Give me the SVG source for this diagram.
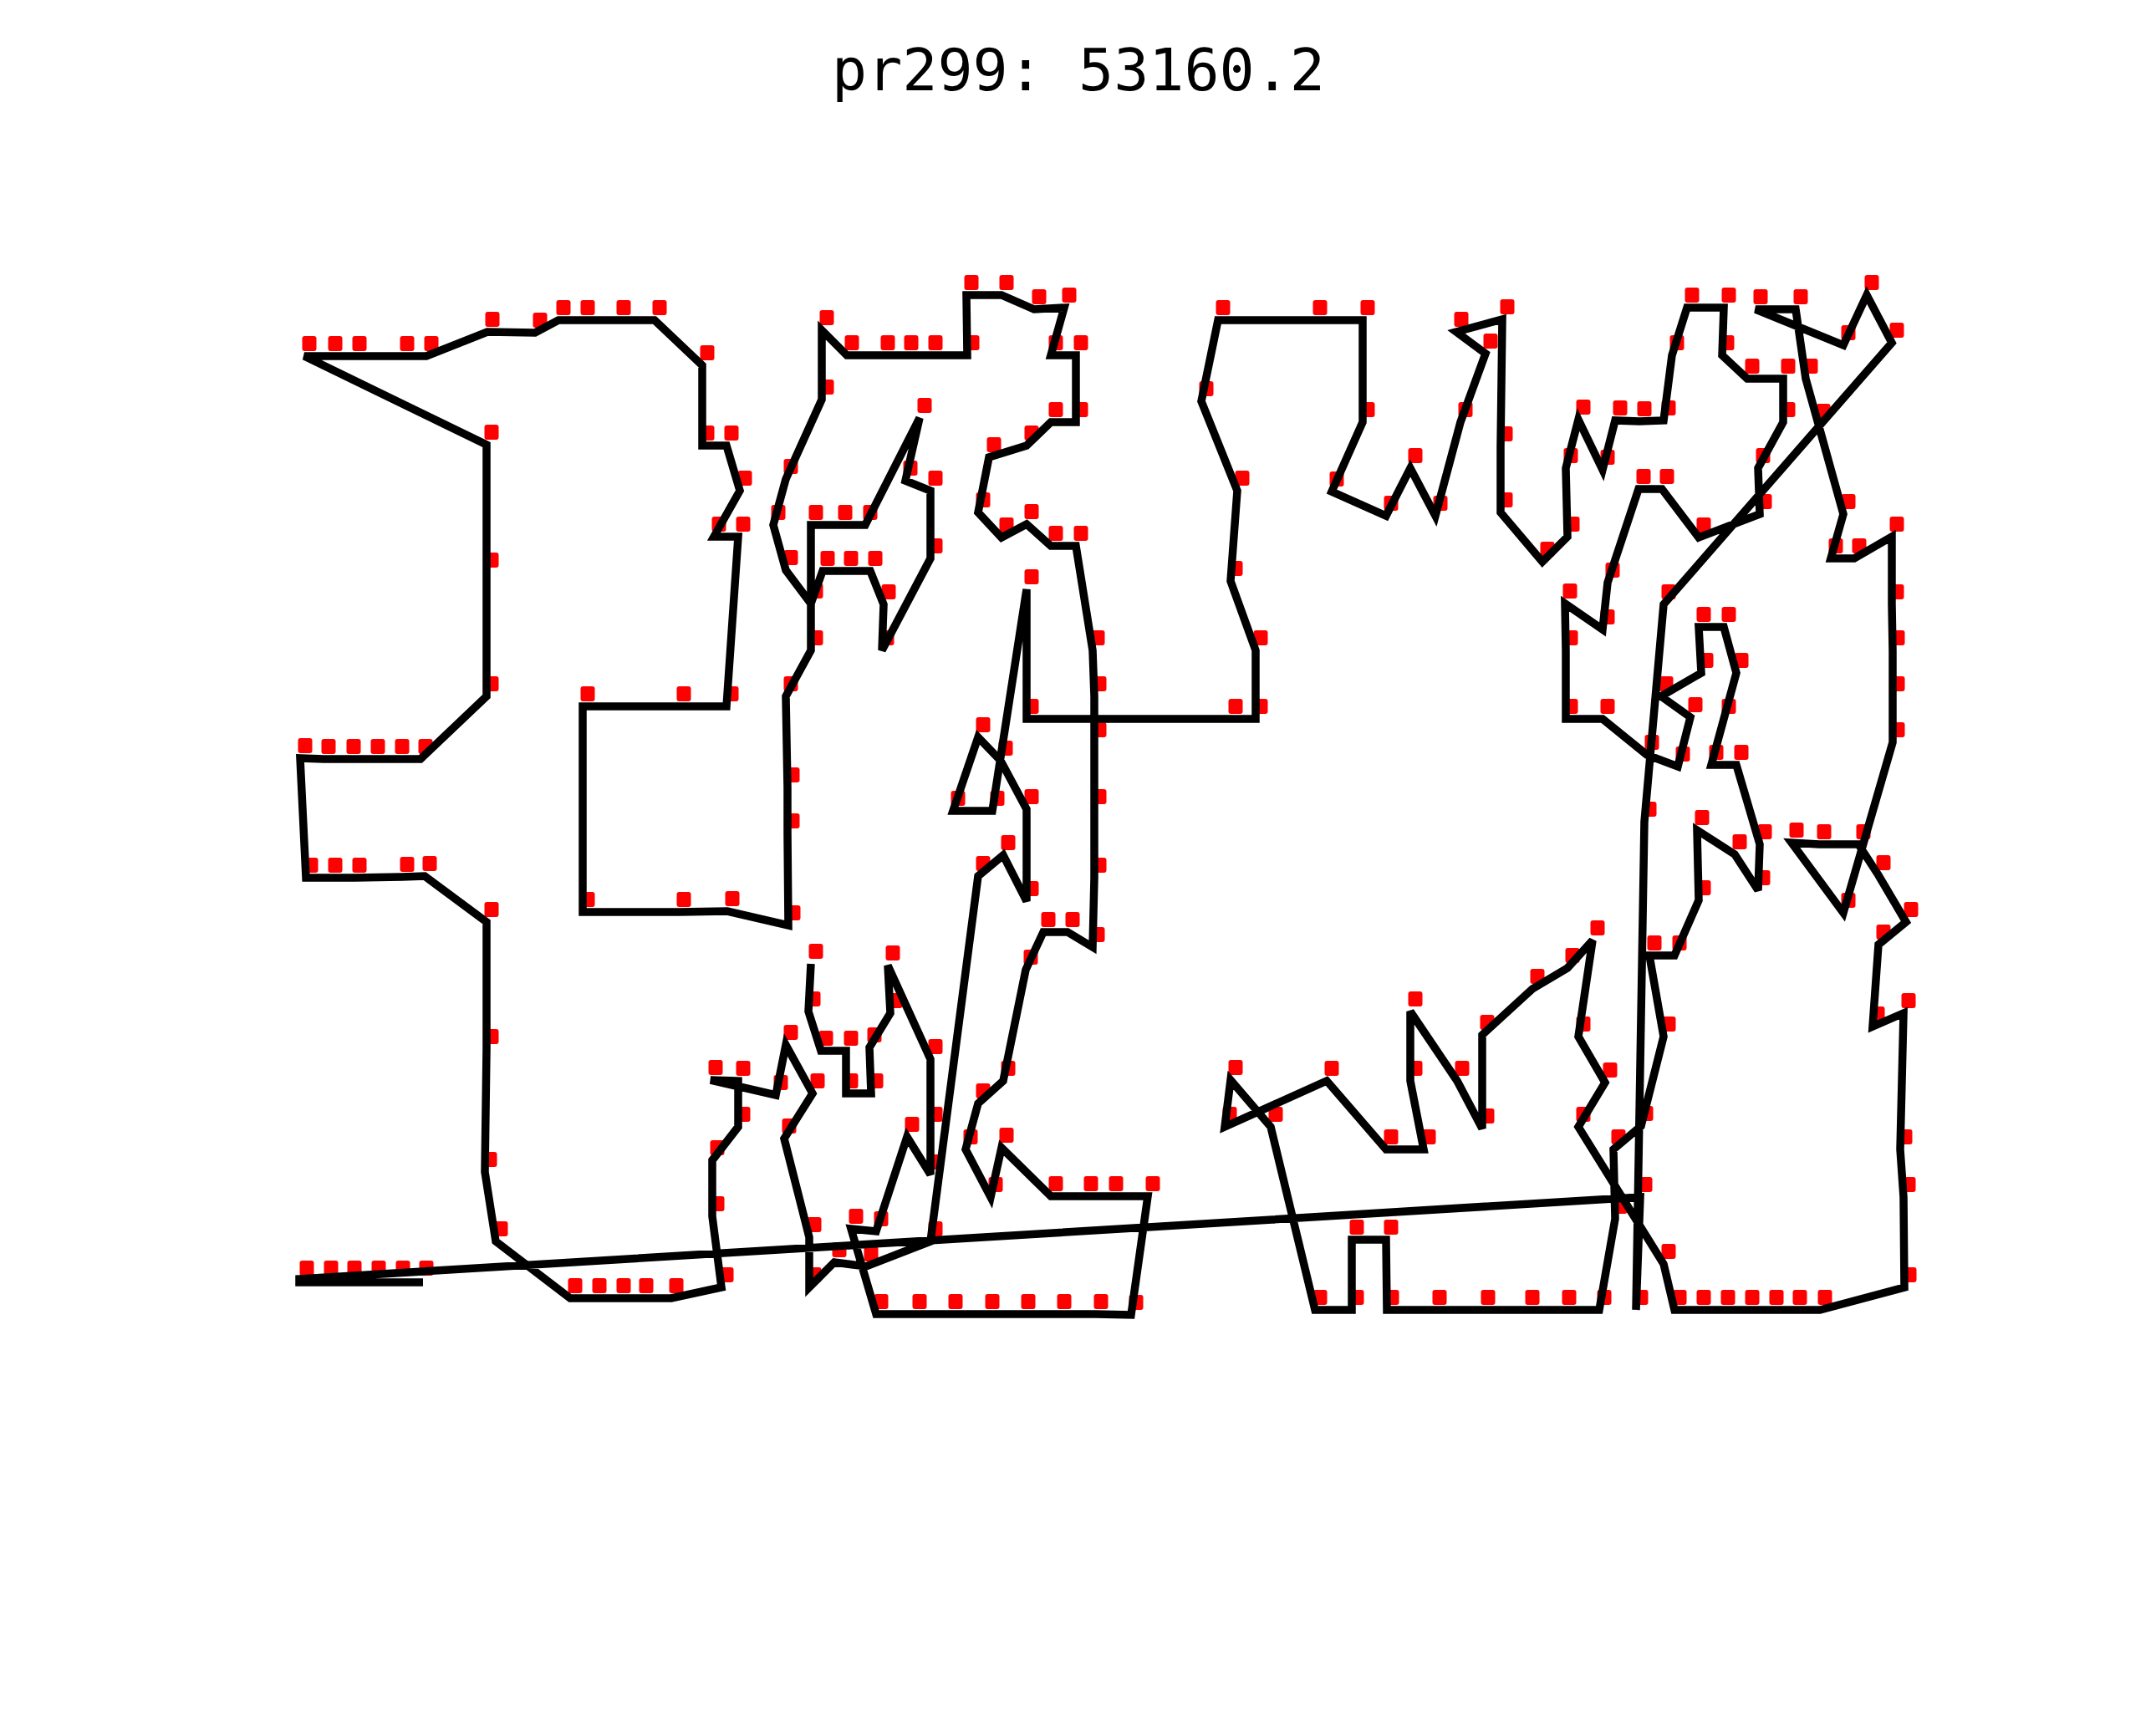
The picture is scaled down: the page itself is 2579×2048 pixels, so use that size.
<svg xmlns="http://www.w3.org/2000/svg" xmlns:xlink="http://www.w3.org/1999/xlink" width="2579" height="2048" viewBox="0 0 2579 2048">
<style>
.tour{fill:none;stroke:#000;stroke-width:9.5;stroke-linejoin:miter;stroke-miterlimit:3;stroke-linecap:butt}
.title{font-family:"DejaVu Sans Mono","Noto Sans CJK SC",monospace;font-size:70px;fill:#000;text-anchor:middle}
</style>
<defs><rect id="m" x="-2.5" y="-24" width="17" height="18" rx="3" fill="#ff0000"/></defs>
<rect width="2579" height="2048" fill="#fff"/>
<text class="title" x="1290" y="108">pr299: 53160.2</text>
<g id="cities">
<use href="#m" x="970" y="1153"/><use href="#m" x="967" y="1210"/><use href="#m" x="982" y="1257"/><use href="#m" x="1012" y="1257"/><use href="#m" x="1012" y="1308"/><use href="#m" x="1042" y="1308"/><use href="#m" x="1040" y="1253"/><use href="#m" x="1065" y="1212"/><use href="#m" x="1062" y="1155"/><use href="#m" x="1113" y="1267"/><use href="#m" x="1113" y="1348"/><use href="#m" x="1113" y="1405"/><use href="#m" x="1085" y="1360"/><use href="#m" x="1048" y="1473"/><use href="#m" x="1018" y="1470"/><use href="#m" x="1048" y="1572"/><use href="#m" x="1094" y="1572"/><use href="#m" x="1137" y="1572"/><use href="#m" x="1181" y="1572"/><use href="#m" x="1224" y="1572"/><use href="#m" x="1267" y="1572"/><use href="#m" x="1311" y="1572"/><use href="#m" x="1353" y="1573"/><use href="#m" x="1373" y="1431"/><use href="#m" x="1329" y="1431"/><use href="#m" x="1299" y="1431"/><use href="#m" x="1257" y="1431"/><use href="#m" x="1198" y="1373"/><use href="#m" x="1185" y="1432"/><use href="#m" x="1155" y="1375"/><use href="#m" x="1170" y="1320"/><use href="#m" x="1200" y="1293"/><use href="#m" x="1227" y="1160"/><use href="#m" x="1248" y="1115"/><use href="#m" x="1277" y="1115"/><use href="#m" x="1307" y="1133"/><use href="#m" x="1309" y="1050"/><use href="#m" x="1309" y="968"/><use href="#m" x="1309" y="888"/><use href="#m" x="1309" y="833"/><use href="#m" x="1307" y="778"/><use href="#m" x="1287" y="653"/><use href="#m" x="1257" y="653"/><use href="#m" x="1228" y="627"/><use href="#m" x="1198" y="643"/><use href="#m" x="1170" y="613"/><use href="#m" x="1183" y="547"/><use href="#m" x="1228" y="533"/><use href="#m" x="1257" y="505"/><use href="#m" x="1287" y="505"/><use href="#m" x="1287" y="425"/><use href="#m" x="1257" y="425"/><use href="#m" x="1273" y="368"/><use href="#m" x="1237" y="370"/><use href="#m" x="1198" y="353"/><use href="#m" x="1156" y="353"/><use href="#m" x="1157" y="425"/><use href="#m" x="1113" y="425"/><use href="#m" x="1084" y="425"/><use href="#m" x="1056" y="425"/><use href="#m" x="1013" y="425"/><use href="#m" x="983" y="395"/><use href="#m" x="983" y="478"/><use href="#m" x="940" y="573"/><use href="#m" x="925" y="628"/><use href="#m" x="940" y="682"/><use href="#m" x="970" y="722"/><use href="#m" x="984" y="683"/><use href="#m" x="1012" y="683"/><use href="#m" x="1041" y="683"/><use href="#m" x="1057" y="723"/><use href="#m" x="1055" y="778"/><use href="#m" x="1113" y="668"/><use href="#m" x="1113" y="587"/><use href="#m" x="1083" y="575"/><use href="#m" x="1100" y="500"/><use href="#m" x="1035" y="628"/><use href="#m" x="1005" y="628"/><use href="#m" x="970" y="628"/><use href="#m" x="970" y="778"/><use href="#m" x="940" y="833"/><use href="#m" x="942" y="942"/><use href="#m" x="942" y="997"/><use href="#m" x="943" y="1107"/><use href="#m" x="870" y="1090"/><use href="#m" x="812" y="1091"/><use href="#m" x="697" y="1091"/><use href="#m" x="697" y="845"/><use href="#m" x="812" y="845"/><use href="#m" x="869" y="845"/><use href="#m" x="883" y="642"/><use href="#m" x="854" y="642"/><use href="#m" x="885" y="587"/><use href="#m" x="869" y="533"/><use href="#m" x="840" y="533"/><use href="#m" x="840" y="437"/><use href="#m" x="783" y="383"/><use href="#m" x="740" y="383"/><use href="#m" x="697" y="383"/><use href="#m" x="668" y="383"/><use href="#m" x="640" y="398"/><use href="#m" x="583" y="397"/><use href="#m" x="510" y="426"/><use href="#m" x="481" y="426"/><use href="#m" x="424" y="426"/><use href="#m" x="395" y="426"/><use href="#m" x="364" y="426"/><use href="#m" x="582" y="532"/><use href="#m" x="582" y="685"/><use href="#m" x="582" y="833"/><use href="#m" x="503" y="908"/><use href="#m" x="475" y="908"/><use href="#m" x="446" y="908"/><use href="#m" x="417" y="908"/><use href="#m" x="387" y="908"/><use href="#m" x="359" y="907"/><use href="#m" x="366" y="1050"/><use href="#m" x="395" y="1050"/><use href="#m" x="424" y="1050"/><use href="#m" x="481" y="1049"/><use href="#m" x="508" y="1048"/><use href="#m" x="582" y="1103"/><use href="#m" x="582" y="1255"/><use href="#m" x="580" y="1402"/><use href="#m" x="593" y="1485"/><use href="#m" x="682" y="1553"/><use href="#m" x="711" y="1553"/><use href="#m" x="740" y="1553"/><use href="#m" x="767" y="1553"/><use href="#m" x="803" y="1553"/><use href="#m" x="863" y="1540"/><use href="#m" x="852" y="1455"/><use href="#m" x="852" y="1388"/><use href="#m" x="883" y="1348"/><use href="#m" x="883" y="1293"/><use href="#m" x="850" y="1292"/><use href="#m" x="928" y="1310"/><use href="#m" x="940" y="1250"/><use href="#m" x="972" y="1308"/><use href="#m" x="938" y="1362"/><use href="#m" x="968" y="1480"/><use href="#m" x="968" y="1540"/><use href="#m" x="998" y="1510"/><use href="#m" x="1036" y="1515"/><use href="#m" x="1113" y="1485"/><use href="#m" x="1170" y="1048"/><use href="#m" x="1200" y="1023"/><use href="#m" x="1228" y="1078"/><use href="#m" x="1228" y="968"/><use href="#m" x="1197" y="910"/><use href="#m" x="1170" y="882"/><use href="#m" x="1140" y="970"/><use href="#m" x="1187" y="970"/><use href="#m" x="1228" y="705"/><use href="#m" x="1228" y="860"/><use href="#m" x="1472" y="860"/><use href="#m" x="1502" y="860"/><use href="#m" x="1502" y="778"/><use href="#m" x="1472" y="695"/><use href="#m" x="1480" y="587"/><use href="#m" x="1437" y="480"/><use href="#m" x="1457" y="383"/><use href="#m" x="1573" y="383"/><use href="#m" x="1630" y="383"/><use href="#m" x="1630" y="505"/><use href="#m" x="1593" y="588"/><use href="#m" x="1658" y="617"/><use href="#m" x="1687" y="560"/><use href="#m" x="1717" y="617"/><use href="#m" x="1747" y="505"/><use href="#m" x="1777" y="423"/><use href="#m" x="1742" y="397"/><use href="#m" x="1797" y="382"/><use href="#m" x="1795" y="534"/><use href="#m" x="1795" y="613"/><use href="#m" x="1845" y="672"/><use href="#m" x="1875" y="642"/><use href="#m" x="1873" y="560"/><use href="#m" x="1888" y="502"/><use href="#m" x="1917" y="562"/><use href="#m" x="1932" y="503"/><use href="#m" x="1961" y="504"/><use href="#m" x="1990" y="503"/><use href="#m" x="2000" y="425"/><use href="#m" x="2018" y="368"/><use href="#m" x="2062" y="368"/><use href="#m" x="2060" y="425"/><use href="#m" x="2090" y="453"/><use href="#m" x="2133" y="453"/><use href="#m" x="2133" y="505"/><use href="#m" x="2103" y="560"/><use href="#m" x="2105" y="615"/><use href="#m" x="2032" y="643"/><use href="#m" x="1988" y="585"/><use href="#m" x="1960" y="585"/><use href="#m" x="1923" y="697"/><use href="#m" x="1917" y="753"/><use href="#m" x="1872" y="722"/><use href="#m" x="1873" y="778"/><use href="#m" x="1873" y="860"/><use href="#m" x="1917" y="860"/><use href="#m" x="1970" y="903"/><use href="#m" x="2007" y="917"/><use href="#m" x="2022" y="858"/><use href="#m" x="1987" y="833"/><use href="#m" x="2035" y="805"/><use href="#m" x="2032" y="750"/><use href="#m" x="2062" y="750"/><use href="#m" x="2077" y="805"/><use href="#m" x="2062" y="860"/><use href="#m" x="2047" y="915"/><use href="#m" x="2077" y="915"/><use href="#m" x="2105" y="1010"/><use href="#m" x="2103" y="1065"/><use href="#m" x="2075" y="1022"/><use href="#m" x="2030" y="993"/><use href="#m" x="2032" y="1077"/><use href="#m" x="2003" y="1143"/><use href="#m" x="1973" y="1143"/><use href="#m" x="1990" y="1240"/><use href="#m" x="1963" y="1347"/><use href="#m" x="1930" y="1375"/><use href="#m" x="1932" y="1458"/><use href="#m" x="1913" y="1567"/><use href="#m" x="1871" y="1567"/><use href="#m" x="1827" y="1567"/><use href="#m" x="1774" y="1567"/><use href="#m" x="1716" y="1567"/><use href="#m" x="1659" y="1567"/><use href="#m" x="1658" y="1483"/><use href="#m" x="1617" y="1483"/><use href="#m" x="1617" y="1567"/><use href="#m" x="1573" y="1567"/><use href="#m" x="1520" y="1348"/><use href="#m" x="1472" y="1292"/><use href="#m" x="1465" y="1348"/><use href="#m" x="1587" y="1293"/><use href="#m" x="1658" y="1375"/><use href="#m" x="1703" y="1375"/><use href="#m" x="1687" y="1293"/><use href="#m" x="1687" y="1210"/><use href="#m" x="1743" y="1293"/><use href="#m" x="1773" y="1350"/><use href="#m" x="1773" y="1238"/><use href="#m" x="1833" y="1183"/><use href="#m" x="1875" y="1158"/><use href="#m" x="1905" y="1125"/><use href="#m" x="1888" y="1240"/><use href="#m" x="1920" y="1295"/><use href="#m" x="1888" y="1348"/><use href="#m" x="1990" y="1512"/><use href="#m" x="2003" y="1567"/><use href="#m" x="2032" y="1567"/><use href="#m" x="2061" y="1567"/><use href="#m" x="2090" y="1567"/><use href="#m" x="2119" y="1567"/><use href="#m" x="2147" y="1567"/><use href="#m" x="2177" y="1567"/><use href="#m" x="2278" y="1540"/><use href="#m" x="2277" y="1432"/><use href="#m" x="2273" y="1375"/><use href="#m" x="2277" y="1212"/><use href="#m" x="2240" y="1228"/><use href="#m" x="2247" y="1130"/><use href="#m" x="2280" y="1103"/><use href="#m" x="2247" y="1047"/><use href="#m" x="2223" y="1010"/><use href="#m" x="2176" y="1010"/><use href="#m" x="2143" y="1008"/><use href="#m" x="2205" y="1092"/><use href="#m" x="2264" y="888"/><use href="#m" x="2264" y="833"/><use href="#m" x="2264" y="778"/><use href="#m" x="2263" y="723"/><use href="#m" x="2263" y="642"/><use href="#m" x="2218" y="668"/><use href="#m" x="2190" y="668"/><use href="#m" x="2205" y="615"/><use href="#m" x="2175" y="507"/><use href="#m" x="2160" y="453"/><use href="#m" x="2148" y="370"/><use href="#m" x="2100" y="370"/><use href="#m" x="2205" y="413"/><use href="#m" x="2233" y="353"/><use href="#m" x="2263" y="410"/><use href="#m" x="1990" y="723"/><use href="#m" x="1967" y="983"/><use href="#m" x="1957" y="1567"/><use href="#m" x="1962" y="1432"/><use href="#m" x="361" y="1532"/><use href="#m" x="390" y="1532"/><use href="#m" x="418" y="1532"/><use href="#m" x="447" y="1532"/><use href="#m" x="476" y="1532"/><use href="#m" x="504" y="1532"/>
</g>
<g id="connectors">
<polyline class="tour" points="970,1153 967,1210 982,1257 1012,1257 1012,1308 1042,1308 1040,1253 1065,1212 1062,1155 1113,1267 1113,1348 1113,1405 1085,1360 1048,1473 1018,1470 1048,1572 1094,1572 1137,1572 1181,1572 1224,1572 1267,1572 1311,1572 1353,1573 1373,1431 1329,1431 1299,1431 1257,1431 1198,1373 1185,1432 1155,1375 1170,1320 1200,1293 1227,1160 1248,1115 1277,1115 1307,1133 1309,1050 1309,968 1309,888 1309,833 1307,778 1287,653 1257,653 1228,627 1198,643 1170,613 1183,547 1228,533 1257,505 1287,505 1287,425 1257,425 1273,368 1237,370 1198,353 1156,353 1157,425 1113,425 1084,425 1056,425 1013,425 983,395 983,478 940,573 925,628 940,682 970,722 984,683 1012,683 1041,683 1057,723 1055,778 1113,668 1113,587 1083,575 1100,500 1035,628 1005,628 970,628 970,778 940,833 942,942 942,997 943,1107 870,1090 812,1091 697,1091 697,845 812,845 869,845 883,642 854,642 885,587 869,533 840,533 840,437 783,383 740,383 697,383 668,383 640,398 583,397 510,426 481,426 424,426 395,426 364,426 582,532 582,685 582,833 503,908 475,908 446,908 417,908 387,908 359,907 366,1050 395,1050 424,1050 481,1049 508,1048 582,1103 582,1255 580,1402 593,1485 682,1553 711,1553 740,1553 767,1553 803,1553 863,1540 852,1455 852,1388 883,1348 883,1293 850,1292 928,1310 940,1250 972,1308 938,1362 968,1480 968,1540 998,1510 1036,1515 1113,1485 1170,1048 1200,1023 1228,1078 1228,968 1197,910 1170,882 1140,970 1187,970 1228,705 1228,860 1472,860 1502,860 1502,778 1472,695 1480,587 1437,480 1457,383 1573,383 1630,383 1630,505 1593,588 1658,617 1687,560 1717,617 1747,505 1777,423 1742,397 1797,382 1795,534 1795,613 1845,672 1875,642 1873,560 1888,502 1917,562 1932,503 1961,504 1990,503 2000,425 2018,368 2062,368 2060,425 2090,453 2133,453 2133,505 2103,560 2105,615 2032,643 1988,585 1960,585 1923,697 1917,753 1872,722 1873,778 1873,860 1917,860 1970,903 2007,917 2022,858 1987,833 2035,805 2032,750 2062,750 2077,805 2062,860 2047,915 2077,915 2105,1010 2103,1065 2075,1022 2030,993 2032,1077 2003,1143 1973,1143 1990,1240 1963,1347 1930,1375 1932,1458 1913,1567 1871,1567 1827,1567 1774,1567 1716,1567 1659,1567 1658,1483 1617,1483 1617,1567 1573,1567 1520,1348 1472,1292 1465,1348 1587,1293 1658,1375 1703,1375 1687,1293 1687,1210 1743,1293 1773,1350 1773,1238 1833,1183 1875,1158 1905,1125 1888,1240 1920,1295 1888,1348 1990,1512 2003,1567 2032,1567 2061,1567 2090,1567 2119,1567 2147,1567 2177,1567 2278,1540 2277,1432 2273,1375 2277,1212 2240,1228 2247,1130 2280,1103 2247,1047 2223,1010 2176,1010 2143,1008 2205,1092 2264,888 2264,833 2264,778 2263,723 2263,642 2218,668 2190,668 2205,615 2175,507 2160,453 2148,370 2100,370 2205,413 2233,353 2263,410 1990,723 1967,983 1957,1567 1962,1432 358,1530 358,1534 390,1534 418,1534 447,1534 476,1534 506,1534"/>
</g>
</svg>
